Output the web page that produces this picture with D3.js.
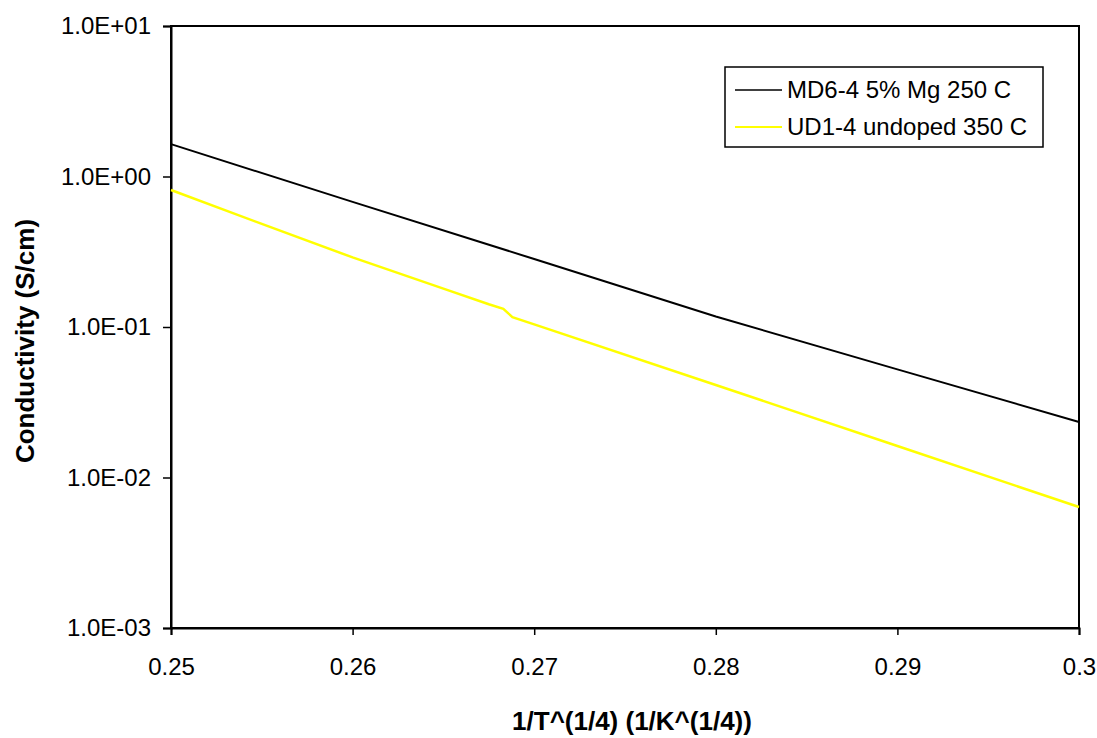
<!DOCTYPE html>
<html>
<head>
<meta charset="utf-8">
<script src="https://cdn.jsdelivr.net/npm/d3@7"></script>
<style>
  body { margin: 0; background: #fff; }
  svg text { font-family: Arial, "Liberation Sans", sans-serif; }
</style>
</head>
<body>
<script>
// Series data
var md6X = [0.25, 0.26, 0.27, 0.28, 0.29, 0.30];
var md6Y = [1.64, 0.678, 0.283, 0.1175, 0.0523, 0.0234];

var ud1X = [0.25, 0.255, 0.26, 0.265, 0.2675, 0.2683, 0.2688, 0.27, 0.28, 0.29, 0.30];
var ud1Y = [0.813, 0.484, 0.290, 0.180, 0.1417, 0.132, 0.1164, 0.104, 0.0412, 0.0162, 0.00637];

var xTicks = [0.25, 0.26, 0.27, 0.28, 0.29, 0.3];
var yTicks = [1e-3, 1e-2, 1e-1, 1e0, 1e1];

var seriesNames = ["MD6-4 5% Mg 250 C", "UD1-4 undoped 350 C"];
var seriesColors = ["#000000", "#ffff00"];

var W = 1097, H = 738;
var plot = {left: 171, right: 1079, top: 26, bottom: 628};

var svg = d3.select("body").append("svg")
    .attr("width", W)
    .attr("height", H);

var x = d3.scaleLinear().domain([0.25, 0.3]).range([plot.left, plot.right]);
var y = d3.scaleLog().domain([1e-3, 1e1]).range([plot.bottom, plot.top]);

function sciFmt(v) {
    var e = Math.round(Math.log10(v));
    var s = Math.abs(e) < 10 ? "0" + Math.abs(e) : "" + Math.abs(e);
    return "1.0E" + (e >= 0 ? "+" : "-") + s;
}

// plot frame
svg.append("rect")
    .attr("x", plot.left).attr("y", plot.top)
    .attr("width", plot.right - plot.left)
    .attr("height", plot.bottom - plot.top)
    .attr("fill", "none")
    .attr("stroke", "#000")
    .attr("stroke-width", 2);

// axes
var yAxis = d3.axisLeft(y).tickValues(yTicks).tickSize(8).tickPadding(12).tickFormat(sciFmt);
var gy = svg.append("g").attr("transform", "translate(" + plot.left + ",0)").call(yAxis);

var xAxis = d3.axisBottom(x).tickValues(xTicks).tickSize(7).tickPadding(23)
    .tickFormat(function(d) { return d3.format("")(+d.toFixed(2)); });
var gx = svg.append("g").attr("transform", "translate(0," + plot.bottom + ")").call(xAxis);

[gx, gy].forEach(function(g) {
    g.select(".domain").attr("stroke", "#000").attr("stroke-width", 2);
    g.selectAll(".tick line").attr("stroke", "#000").attr("stroke-width", 1.5);
    g.selectAll(".tick text")
        .attr("fill", "#000")
        .style("font-size", "24px")
        .style("font-family", "Arial, 'Liberation Sans', sans-serif");
});

// lines
var line = d3.line()
    .x(function(d) { return x(d[0]); })
    .y(function(d) { return y(d[1]); });

var series = [
    d3.zip(md6X, md6Y),
    d3.zip(ud1X, ud1Y)
];

svg.append("path")
    .datum(series[1])
    .attr("d", line)
    .attr("fill", "none")
    .attr("stroke", seriesColors[1])
    .attr("stroke-width", 2.5);

svg.append("path")
    .datum(series[0])
    .attr("d", line)
    .attr("fill", "none")
    .attr("stroke", seriesColors[0])
    .attr("stroke-width", 2);

// axis titles
svg.append("text")
    .attr("x", 632).attr("y", 730)
    .attr("text-anchor", "middle")
    .style("font-size", "26px")
    .style("font-weight", "bold")
    .text("1/T^(1/4) (1/K^(1/4))");

svg.append("text")
    .attr("transform", "translate(34,341) rotate(-90)")
    .attr("text-anchor", "middle")
    .style("font-size", "26px")
    .style("font-weight", "bold")
    .text("Conductivity (S/cm)");

// legend
var legend = svg.append("g");
legend.append("rect")
    .attr("x", 725).attr("y", 67)
    .attr("width", 318).attr("height", 80)
    .attr("fill", "#fff")
    .attr("stroke", "#000")
    .attr("stroke-width", 1.5);

seriesNames.forEach(function(name, i) {
    var ly = 90 + i * 37;
    legend.append("line")
        .attr("x1", 735).attr("x2", 782)
        .attr("y1", ly).attr("y2", ly)
        .attr("stroke", seriesColors[i])
        .attr("stroke-width", i === 0 ? 1.5 : 2);
    legend.append("text")
        .attr("x", 787).attr("y", ly)
        .attr("dy", "0.35em")
        .style("font-size", "24px")
        .text(name);
});
</script>
</body>
</html>
